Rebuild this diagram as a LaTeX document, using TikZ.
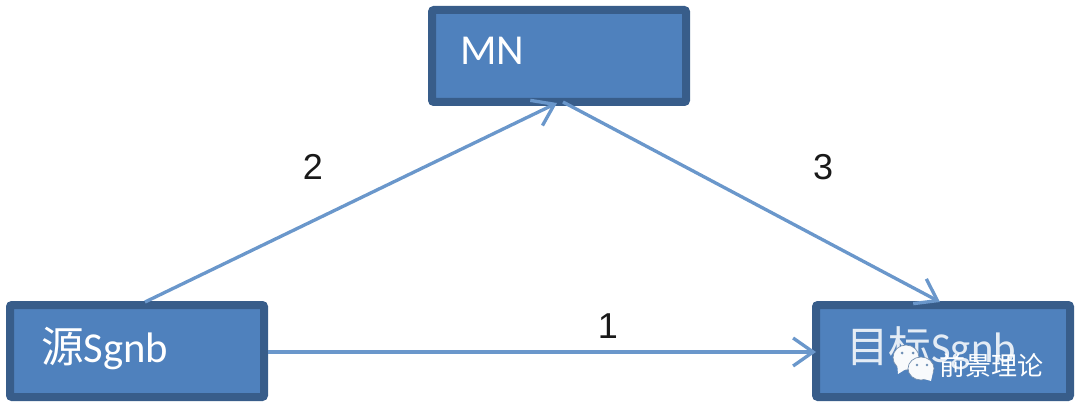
\documentclass[tikz,border=0pt]{standalone}
\usepackage{fontspec}
\setmainfont{Carlito}
\newfontfamily\cjk{Noto Sans CJK SC}
\newfontfamily\digits{Liberation Sans}
\usetikzlibrary{arrows.meta,calc}
\definecolor{boxfill}{HTML}{4F81BD}
\definecolor{boxline}{HTML}{385D8A}
\definecolor{linkc}{HTML}{6A97CB}
\definecolor{eyec}{HTML}{6F8FB5}
\tikzset{
  x=0.75pt,y=-0.75pt,
  boxn/.style={draw=boxline,line width=6pt,fill=boxfill,rounded corners=1.5pt,minimum width=190.5pt,minimum height=69pt,inner sep=0pt,outer sep=3pt},
  lbl/.style={text=white,anchor=base west,inner sep=0pt,outer sep=0pt,font=\fontsize{32pt}{32pt}\selectfont},
  num/.style={text=black!90,inner sep=0pt,font=\digits\fontsize{27pt}{27pt}\selectfont},
  link/.style={draw=linkc,line width=2.5pt,-{Straight Barb[length=15pt,width=21pt,line width=2.5pt]}},
  wmark/.style={text=white,inner sep=0pt,anchor=base west,font=\cjk\fontsize{19.5pt}{19.5pt}\selectfont},
  bubble/.style={fill=white!96!boxfill,draw=boxline!70!white,line width=0.5pt}
}
\begin{document}
\begin{tikzpicture}
\useasboundingbox (0,0) rectangle (1080,413);
\node[boxn] (mn) at (559,56) {};
\node[boxn] (src) at (137,351) {};
\node[boxn] (dst) at (943,351) {};
\node[lbl] (mnt) at (460,65) {MN};
\node[lbl] (srct) at (41,362) {{\cjk 源}Sgnb};
\node[lbl,opacity=0.85] (dstt) at (846,362) {{\cjk 目标}Sgnb};
\coordinate (a) at ($(src.north)+(8,1)$);
\coordinate (b) at ($(mn.south)+(-2,-3)$);
\coordinate (c) at ($(dst.north)+(-3,1)$);
\coordinate (d) at ($(mn.south)+(4,-4)$);
\coordinate (e) at ($(src.east)+(0,1)$);
\coordinate (f) at ($(dst.west)+(4,1)$);
\draw[link] (a) -- (b);
\draw[link] (d) -- (c);
\draw[link] (e) -- (f);
\node[num] (n2) at (313,167) {2};
\node[num] (n3) at (823,167) {3};
\node[num] (n1) at (608,326) {1};
% watermark
\path[bubble] (906,357.5) ellipse (13 and 12.5);
\path[bubble,draw=none] (898,374) -- (897,362) -- (906,369) -- cycle;
\fill[eyec] (902,353) circle (1.5) (913,353) circle (1.5);
\path[bubble] (921,368.5) ellipse (13 and 11.5);
\path[bubble,draw=none] (931,381) -- (933,372) -- (924,379) -- cycle;
\fill[eyec] (917,365) circle (1.4) (927,365) circle (1.4);
\node[wmark] (wm) at (939,375) {前景理论};
\end{tikzpicture}
\end{document}
